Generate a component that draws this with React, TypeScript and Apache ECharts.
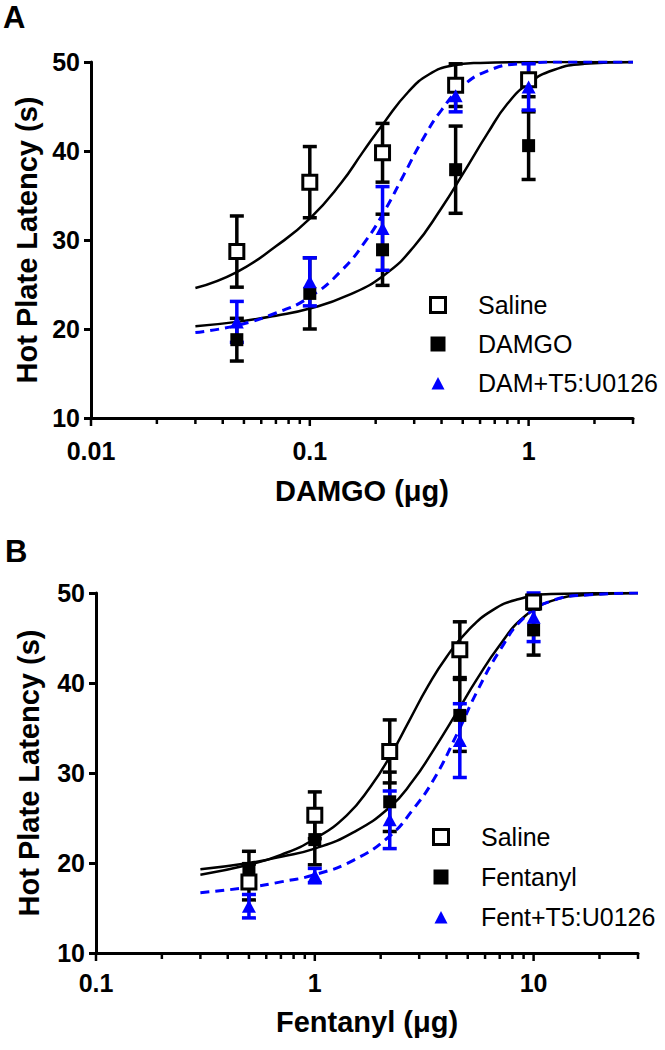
import React, { useEffect, useRef } from "react";
import * as echarts from "echarts";

// ---------- Panel A (DAMGO) ----------
const dosesA = [0.0464, 0.1, 0.215, 0.464, 1];
const salineA = [28.7, 36.5, 39.8, 47.4, 48.0];
const salineSemA = [4.0, 4.0, 3.3, 2.4, 1.9];
const damgoA = [18.8, 24.0, 28.9, 37.9, 40.6];
const damgoSemA = [2.4, 4.0, 4.0, 4.9, 3.8];
const t5A = [20.8, 25.3, 31.3, 46.2, 47.2];
const t5SemA = [2.3, 2.7, 4.7, 1.8, 2.6];

const salineCurveA = [[0.03, 24.6], [0.0464, 26.4], [0.07, 29.3], [0.1, 32.4], [0.139, 36.4], [0.175, 39.9], [0.22, 43.3], [0.281, 46.6], [0.35, 48.6], [0.45, 49.6], [0.6, 49.9], [1, 50], [3, 50]];
const damgoCurveA = [[0.03, 20.3], [0.0464, 20.8], [0.07, 21.5], [0.1, 22.3], [0.15, 23.8], [0.22, 26.1], [0.3, 29.3], [0.4, 33.6], [0.5, 37.4], [0.65, 42.0], [0.8, 45.3], [1, 47.6], [1.3, 49.1], [1.8, 49.8], [3, 50]];
const t5CurveA = [[0.03, 19.6], [0.0464, 20.4], [0.07, 21.8], [0.1, 23.6], [0.14, 26.6], [0.18, 29.9], [0.22, 33.3], [0.27, 37.4], [0.33, 41.4], [0.4, 44.6], [0.5, 47.3], [0.65, 49.0], [0.9, 49.8], [1.5, 50], [3, 50]];

const majorTicksA = [0.01, 0.1, 1];
const tickLabelsA = ["0.01", "0.1", "1"];
const minorTicksA = [0.02, 0.03, 0.04, 0.05, 0.06, 0.07, 0.08, 0.09, 0.2, 0.3, 0.4, 0.5, 0.6, 0.7, 0.8, 0.9, 2, 3];
const legendA = ["Saline", "DAMGO", "DAM+T5:U0126"];

// ---------- Panel B (Fentanyl) ----------
const dosesB = [0.5, 1, 2.2, 4.6, 10];
const salineB = [17.9, 25.3, 32.4, 43.7, 49.0];
const salineSemB = [2.0, 2.6, 3.5, 3.1, 0.8];
const fentB = [19.4, 22.6, 26.8, 36.4, 45.9];
const fentSemB = [1.9, 2.8, 3.3, 4.0, 2.8];
const t5B = [15.2, 18.6, 24.8, 33.6, 47.3];
const t5SemB = [1.3, 0.8, 3.2, 4.1, 2.7];

const salineCurveB = [[0.3, 18.7], [0.5, 19.8], [0.7, 20.9], [1, 22.7], [1.4, 25.3], [1.8, 28.5], [2.2, 31.8], [2.7, 35.8], [3.3, 39.7], [4, 42.9], [5, 45.8], [6.5, 48.1], [8.5, 49.3], [12, 49.9], [30, 50]];
const fentCurveB = [[0.3, 19.3], [0.5, 20.0], [0.7, 20.7], [1, 21.6], [1.5, 23.4], [2.2, 26.2], [2.8, 29.1], [3.5, 32.6], [4.5, 36.9], [5.5, 40.4], [7, 44.2], [9, 47.3], [12, 49.1], [18, 49.8], [30, 50]];
const t5CurveB = [[0.3, 16.7], [0.5, 17.3], [0.7, 17.9], [1, 18.7], [1.5, 20.3], [2.2, 23.0], [2.8, 25.9], [3.5, 29.3], [4.5, 34.5], [5.5, 39.0], [7, 43.6], [9, 47.2], [12, 49.1], [18, 49.8], [30, 50]];

const majorTicksB = [0.1, 1, 10];
const tickLabelsB = ["0.1", "1", "10"];
const minorTicksB = [0.2, 0.3, 0.4, 0.5, 0.6, 0.7, 0.8, 0.9, 2, 3, 4, 5, 6, 7, 8, 9, 20, 30];
const legendB = ["Saline", "Fentanyl", "Fent+T5:U0126"];

const yTicks = { min: 10, max: 50, interval: 10 };

// ---------- styles ----------
const FONT = "'Liberation Sans', Arial, Helvetica, sans-serif";
const BLUE = "#0000FF";
const SQ = "path://M0 0H15V15H0Z";
const TRI = "path://M0 0M7.5 1.5L14 14H1ZM15 15";

function xAxisCfg(gi: number, min: number, max: number, majors: number[], labels: string[], name: string, gap: number, margin: number) {
  return {
    type: "log",
    logBase: 10,
    gridIndex: gi,
    min,
    max,
    name,
    nameLocation: "middle",
    nameGap: gap,
    nameTextStyle: { fontFamily: FONT, fontWeight: "bold", fontSize: 29, color: "#000" },
    axisLine: { show: true, onZero: false, lineStyle: { color: "#000", width: 3 } },
    axisTick: { show: false },
    minorTick: { show: false },
    splitLine: { show: false },
    axisLabel: {
      margin,
      fontFamily: FONT,
      fontWeight: "bold",
      fontSize: 25,
      color: "#000",
      formatter: (v: number) => {
        const i = majors.findIndex((t) => Math.abs(t - v) / t < 1e-6);
        return i >= 0 ? labels[i] : "";
      },
    },
  };
}

function yAxisCfg(gi: number, gap: number) {
  return {
    type: "value",
    gridIndex: gi,
    min: yTicks.min,
    max: yTicks.max,
    interval: yTicks.interval,
    name: "Hot Plate Latency (s)",
    nameLocation: "middle",
    nameGap: gap,
    nameRotate: 90,
    nameTextStyle: { fontFamily: FONT, fontWeight: "bold", fontSize: 29, color: "#000" },
    axisLine: { show: true, onZero: false, lineStyle: { color: "#000", width: 3 } },
    axisTick: { show: true, length: 7, lineStyle: { color: "#000", width: 3 } },
    splitLine: { show: false },
    axisLabel: { margin: 11, fontFamily: FONT, fontWeight: "bold", fontSize: 25, color: "#000" },
  };
}

function tickSeries(gi: number, majors: number[], minors: number[]) {
  return {
    type: "custom",
    xAxisIndex: gi,
    yAxisIndex: gi,
    silent: true,
    clip: false,
    z: 5,
    data: [...majors.map((v) => [v, yTicks.min, 1]), ...minors.map((v) => [v, yTicks.min, 0])],
    encode: { x: 0, y: 1 },
    renderItem: (_p: any, api: any) => {
      const p = api.coord([api.value(0), api.value(1)]);
      const len = api.value(2) ? 8 : 6;
      return {
        type: "line",
        shape: { x1: p[0], y1: p[1], x2: p[0], y2: p[1] + len },
        style: { stroke: "#000", lineWidth: 2.5 },
      };
    },
  };
}

function curveSeries(gi: number, name: string, data: number[][], color: string, dashed: boolean) {
  return {
    type: "line",
    name,
    xAxisIndex: gi,
    yAxisIndex: gi,
    data,
    showSymbol: false,
    symbol: "none",
    smooth: 0.5,
    silent: true,
    z: 1,
    lineStyle: { color, width: dashed ? 3 : 2.5, type: dashed ? [9, 6] : "solid" },
  };
}

function errSeries(gi: number, name: string, doses: number[], means: number[], sems: number[], color: string) {
  return {
    type: "custom",
    name,
    xAxisIndex: gi,
    yAxisIndex: gi,
    silent: true,
    z: 2,
    data: doses.map((d, i) => [d, means[i], sems[i]]),
    encode: { x: 0, y: 1 },
    renderItem: (_p: any, api: any) => {
      const x = api.value(0);
      const m = api.value(1);
      const s = api.value(2);
      const t = api.coord([x, m + s]);
      const b = api.coord([x, m - s]);
      const hw = 7;
      const st = { stroke: color, lineWidth: 3.5 };
      return {
        type: "group",
        children: [
          { type: "line", shape: { x1: t[0], y1: t[1], x2: b[0], y2: b[1] }, style: st },
          { type: "line", shape: { x1: t[0] - hw, y1: t[1], x2: t[0] + hw, y2: t[1] }, style: st },
          { type: "line", shape: { x1: b[0] - hw, y1: b[1], x2: b[0] + hw, y2: b[1] }, style: st },
        ],
      };
    },
  };
}

function scatterSeries(gi: number, name: string, doses: number[], means: number[], kind: "open" | "filled" | "tri") {
  const base: any = {
    type: "scatter",
    name,
    xAxisIndex: gi,
    yAxisIndex: gi,
    silent: true,
    z: 3,
    data: doses.map((d, i) => [d, means[i]]),
  };
  if (kind === "open") {
    base.symbol = "rect";
    base.symbolSize = 14;
    base.itemStyle = { color: "#fff", borderColor: "#000", borderWidth: 3, opacity: 1 };
  } else if (kind === "filled") {
    base.symbol = "rect";
    base.symbolSize = 13;
    base.itemStyle = { color: "#000", opacity: 1 };
  } else {
    base.symbol = "triangle";
    base.symbolSize = [14, 13];
    base.itemStyle = { color: BLUE, opacity: 1 };
  }
  return base;
}

function legendCfg(left: number, top: number, gap: number, names: string[]) {
  return {
    left,
    top,
    orient: "vertical",
    itemWidth: 70,
    itemHeight: 15,
    itemGap: gap,
    selectedMode: false,
    textStyle: { fontFamily: FONT, fontSize: 25, color: "#000", lineHeight: 26 },
    data: [
      { name: names[0], icon: SQ, itemStyle: { borderWidth: 3 } },
      { name: names[1], icon: SQ },
      { name: names[2], icon: TRI },
    ],
  };
}

function buildOption() {
  return {
    animation: false,
    backgroundColor: "#fff",
    grid: [
      { left: 91, top: 62, width: 542, height: 356 },
      { left: 96, top: 593, width: 542, height: 360 },
    ],
    xAxis: [
      xAxisCfg(0, 0.01, 3, majorTicksA, tickLabelsA, "DAMGO (\u03bcg)", 58, 20),
      xAxisCfg(1, 0.1, 30, majorTicksB, tickLabelsB, "Fentanyl (\u03bcg)", 54, 17),
    ],
    yAxis: [yAxisCfg(0, 48), yAxisCfg(1, 53)],
    legend: [legendCfg(424, 287, 13, legendA), legendCfg(427, 819, 14, legendB)],
    graphic: [
      { type: "text", left: 3, top: 2, style: { text: "A", font: `bold 31px ${FONT}`, fill: "#000" } },
      { type: "text", left: 5, top: 536, style: { text: "B", font: `bold 31px ${FONT}`, fill: "#000" } },
    ],
    series: [
      tickSeries(0, majorTicksA, minorTicksA),
      curveSeries(0, "Saline fit A", salineCurveA, "#000", false),
      curveSeries(0, "DAMGO fit A", damgoCurveA, "#000", false),
      curveSeries(0, "T5 fit A", t5CurveA, BLUE, true),
      errSeries(0, "Saline SEM A", dosesA, salineA, salineSemA, "#000"),
      scatterSeries(0, legendA[0], dosesA, salineA, "open"),
      errSeries(0, "DAMGO SEM A", dosesA, damgoA, damgoSemA, "#000"),
      scatterSeries(0, legendA[1], dosesA, damgoA, "filled"),
      errSeries(0, "T5 SEM A", dosesA, t5A, t5SemA, BLUE),
      scatterSeries(0, legendA[2], dosesA, t5A, "tri"),

      tickSeries(1, majorTicksB, minorTicksB),
      curveSeries(1, "Saline fit B", salineCurveB, "#000", false),
      curveSeries(1, "Fentanyl fit B", fentCurveB, "#000", false),
      curveSeries(1, "T5 fit B", t5CurveB, BLUE, true),
      errSeries(1, "Saline SEM B", dosesB, salineB, salineSemB, "#000"),
      scatterSeries(1, legendB[0], dosesB, salineB, "open"),
      errSeries(1, "Fentanyl SEM B", dosesB, fentB, fentSemB, "#000"),
      scatterSeries(1, legendB[1], dosesB, fentB, "filled"),
      errSeries(1, "T5 SEM B", dosesB, t5B, t5SemB, BLUE),
      scatterSeries(1, legendB[2], dosesB, t5B, "tri"),
    ],
  };
}

export default function App() {
  const ref = useRef<HTMLDivElement>(null);
  useEffect(() => {
    document.body.style.margin = "0";
    const chart = echarts.init(ref.current as HTMLDivElement, null, { renderer: "svg" });
    chart.setOption(buildOption() as any);
    return () => chart.dispose();
  }, []);
  return <div ref={ref} style={{ width: 665, height: 1050 }} />;
}
